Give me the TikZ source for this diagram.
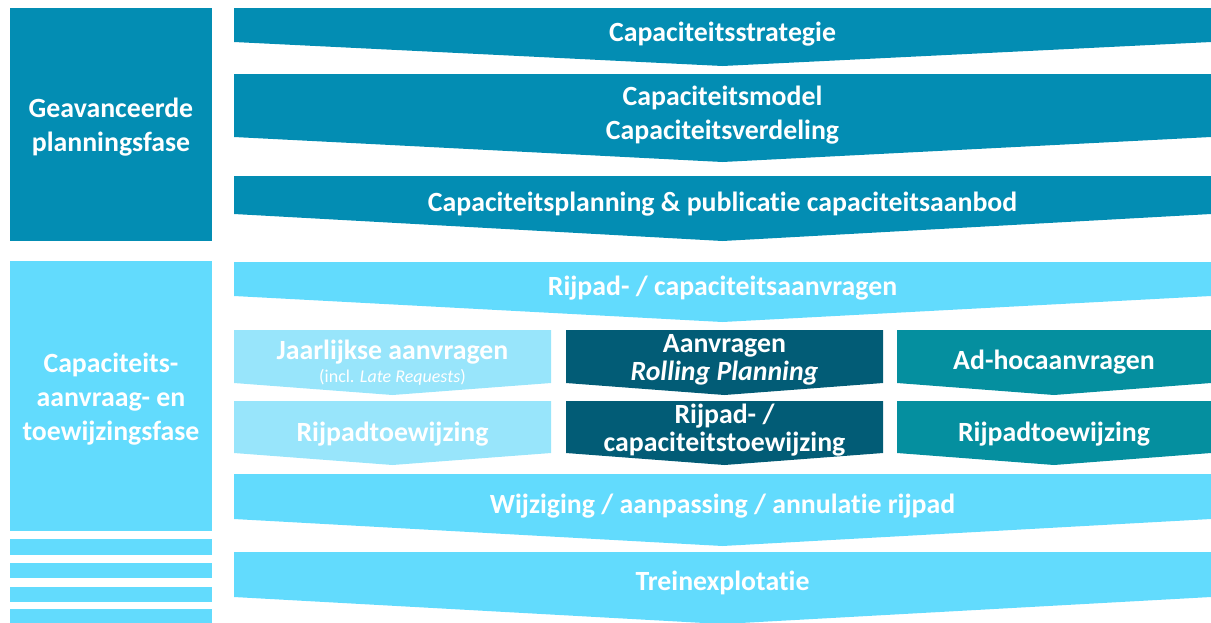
\documentclass[tikz,border=0pt]{standalone}
\usepackage{fontspec}
\setmainfont[Ligatures=NoCommon]{Carlito}
\definecolor{cblue}{HTML}{038DB3}
\definecolor{ccyan}{HTML}{62DBFD}
\definecolor{cpale}{HTML}{98E5FB}
\definecolor{cdeep}{HTML}{025C76}
\definecolor{cteal}{HTML}{058F9F}
% chevron: x1, x2, top, side bottom, tip, colour
\newcommand\chevshape[6]{\fill[#6] (#1,#3) -- (#2,#3) -- (#2,#4) -- ({(#1+#2)/2},#5) -- (#1,#4) -- cycle;}
\begin{document}
\begin{tikzpicture}[x=1pt,y=-1pt,
  lbl/.style={text=white,font=\bfseries\fontsize{27.8}{34}\selectfont,align=center,inner sep=0pt},
  lbltight/.style={lbl,font=\bfseries\fontsize{27.8}{28.5}\selectfont},
  note/.style={text=white,font=\fontsize{18}{20}\selectfont,inner sep=0pt}]
\useasboundingbox (0,0) rectangle (1211,622);
\clip (0,0) rectangle (1211,622);
% left phase boxes
\fill[cblue] (10,8) rectangle (212,241);
\fill[ccyan] (10,261) rectangle (212,531);
\fill[ccyan] (10,539) rectangle (212,555);
\fill[ccyan] (10,563) rectangle (212,578);
\fill[ccyan] (10,587) rectangle (212,602);
\fill[ccyan] (10,609) rectangle (212,630);
\node[lbl] (fase1) at (111,127) {Geavanceerde\\planningsfase};
\node[lbl] (fase2) at (111,399) {Capaciteits-\\aanvraag- en\\toewijzingsfase};
% top chevrons
\chevshape{234}{1211}{8}{42}{66}{cblue}
\node[lbl] (strat) at (722.5,34) {Capaciteitsstrategie};
\chevshape{234}{1211}{74}{137}{162}{cblue}
\node[lbl] (model) at (722.5,115) {Capaciteitsmodel\\Capaciteitsverdeling};
\chevshape{234}{1211}{176}{214}{241}{cblue}
\node[lbl] (plan) at (722.5,204) {Capaciteitsplanning \& publicatie capaciteitsaanbod};
% request chevron
\chevshape{234}{1211}{262}{296}{322}{ccyan}
\node[lbl] (aanvr) at (722.5,288) {Rijpad- / capaciteitsaanvragen};
% three columns
\chevshape{234}{551}{330}{383}{395}{cpale}
\node[lbl] (jaar) at (392.5,352) {Jaarlijkse aanvragen};
\node[note] (incl) at (392.5,377) {(incl. \textit{Late Requests})};
\chevshape{566}{883}{330}{383}{395}{cdeep}
\node[lbltight] (roll) at (724.5,360) {Aanvragen\\\textit{Rolling Planning}};
\chevshape{897}{1211}{330}{383}{395}{cteal}
\node[lbl] (adhoc) at (1054,362) {Ad-hocaanvragen};
\chevshape{234}{551}{401}{453}{465}{cpale}
\node[lbl] (toew1) at (392.5,434) {Rijpadtoewijzing};
\chevshape{566}{883}{401}{453}{465}{cdeep}
\node[lbltight] (toew2) at (724.5,430) {Rijpad- /\\capaciteitstoewijzing};
\chevshape{897}{1211}{401}{453}{465}{cteal}
\node[lbl] (toew3) at (1054,434) {Rijpadtoewijzing};
% bottom chevrons
\chevshape{234}{1211}{474}{519}{546}{ccyan}
\node[lbl] (wijz) at (722.5,506) {Wijziging / aanpassing / annulatie rijpad};
\chevshape{234}{1211}{552}{597}{624}{ccyan}
\node[lbl] (trein) at (722.5,583) {Treinexplotatie};
\end{tikzpicture}
\end{document}
